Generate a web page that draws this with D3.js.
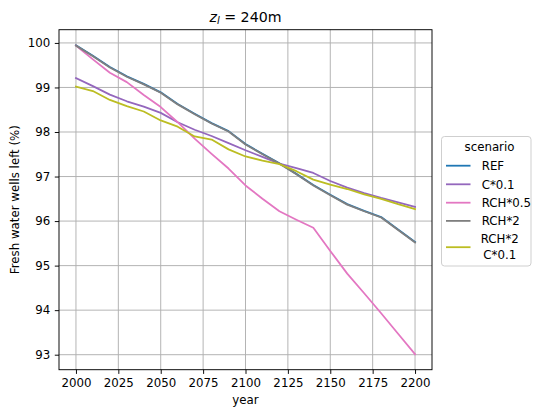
<!DOCTYPE html>
<html>
<head>
<meta charset="utf-8">
<script src="https://cdn.jsdelivr.net/npm/d3@7"></script>
<style>
  html, body { margin: 0; padding: 0; background: #fff; }
  svg { display: block; font-family: "DejaVu Sans", sans-serif; }
</style>
</head>
<body>
<svg id="chart" width="534" height="407"></svg>
<script>
// Share of fresh-water wells remaining per scenario, every 10 years
const years = [2000, 2010, 2020, 2030, 2040, 2050, 2060, 2070, 2080, 2090, 2100,
               2110, 2120, 2130, 2140, 2150, 2160, 2170, 2180, 2190, 2200];

const ref      = [99.95, 99.71, 99.46, 99.25, 99.08, 98.89, 98.63, 98.41, 98.20, 98.02, 97.73,
                  97.51, 97.30, 97.06, 96.81, 96.59, 96.38, 96.23, 96.09, 95.81, 95.53];
const c01      = [99.21, 99.03, 98.84, 98.69, 98.57, 98.43, 98.22, 98.05, 97.91, 97.75, 97.59,
                  97.44, 97.29, 97.19, 97.08, 96.90, 96.75, 96.63, 96.52, 96.42, 96.32];
const rch05    = [99.94, 99.63, 99.33, 99.12, 98.83, 98.56, 98.22, 97.85, 97.51, 97.18, 96.80,
                  96.50, 96.22, 96.03, 95.85, 95.33, 94.82, 94.38, 93.93, 93.47, 93.01];
const rch2     = [99.94, 99.70, 99.45, 99.24, 99.07, 98.88, 98.62, 98.40, 98.19, 98.01, 97.72,
                  97.50, 97.29, 97.05, 96.80, 96.58, 96.37, 96.22, 96.08, 95.80, 95.52];
const rch2c01  = [99.02, 98.92, 98.72, 98.58, 98.46, 98.26, 98.12, 97.90, 97.83, 97.61, 97.45,
                  97.36, 97.28, 97.12, 96.93, 96.82, 96.72, 96.60, 96.50, 96.38, 96.27];

const scenarioNames = ["REF", "C*0.1", "RCH*0.5", "RCH*2", "RCH*2\nC*0.1"];
const scenarioValues = [ref, c01, rch05, rch2, rch2c01];
const colors = ["#1f77b4", "#9467bd", "#e377c2", "#7f7f7f", "#bcbd22"];

const xTicks = [2000, 2025, 2050, 2075, 2100, 2125, 2150, 2175, 2200];
const yTicks = [93, 94, 95, 96, 97, 98, 99, 100];

const svg = d3.select("#chart");
const plot = { left: 59, right: 432, top: 29.7, bottom: 369.7 };
const fs = 11.8;

// matplotlib-style 5% margins around the data extent
const allVals = scenarioValues.flat();
const yMin = d3.min(allVals), yMax = d3.max(allVals);
const yPad = (yMax - yMin) * 0.05;
const x = d3.scaleLinear().domain([1990, 2210]).range([plot.left, plot.right]);
const y = d3.scaleLinear().domain([yMin - yPad, yMax + yPad]).range([plot.bottom, plot.top]);

svg.append("rect").attr("width", 534).attr("height", 407).attr("fill", "#fff");

// grid
const grid = svg.append("g").attr("stroke", "#b0b0b0").attr("stroke-width", 0.95);
xTicks.forEach(t => grid.append("line")
  .attr("x1", x(t)).attr("x2", x(t)).attr("y1", plot.top).attr("y2", plot.bottom));
yTicks.forEach(t => grid.append("line")
  .attr("x1", plot.left).attr("x2", plot.right).attr("y1", y(t)).attr("y2", y(t)));

// series
const line = d3.line().x((d, i) => x(years[i])).y(d => y(d));
const plotClip = svg.append("clipPath").attr("id", "clip").append("rect")
  .attr("x", plot.left).attr("y", plot.top)
  .attr("width", plot.right - plot.left).attr("height", plot.bottom - plot.top);
const series = svg.append("g").attr("clip-path", "url(#clip)");
scenarioValues.forEach((vals, i) => {
  series.append("path").datum(vals)
    .attr("d", line).attr("fill", "none")
    .attr("stroke", colors[i]).attr("stroke-width", 1.8)
    .attr("stroke-linejoin", "round").attr("stroke-linecap", "square");
});

// axes
const xAxis = d3.axisBottom(x).tickValues(xTicks).tickFormat(d3.format("d"))
  .tickSizeInner(4.2).tickSizeOuter(0).tickPadding(4.5);
const yAxis = d3.axisLeft(y).tickValues(yTicks).tickFormat(d3.format("d"))
  .tickSizeInner(4.2).tickSizeOuter(0).tickPadding(4.5);

const gx = svg.append("g").attr("transform", `translate(0,${plot.bottom})`).call(xAxis);
const gy = svg.append("g").attr("transform", `translate(${plot.left},0)`).call(yAxis);
[gx, gy].forEach(g => {
  g.select(".domain").remove();
  g.selectAll(".tick line").attr("stroke", "#000").attr("stroke-width", 0.95);
  g.selectAll(".tick text").attr("fill", "#000")
    .style("font-family", "DejaVu Sans").style("font-size", fs + "px");
});

// spines
svg.append("rect")
  .attr("x", plot.left).attr("y", plot.top)
  .attr("width", plot.right - plot.left).attr("height", plot.bottom - plot.top)
  .attr("fill", "none").attr("stroke", "#000").attr("stroke-width", 0.95);

// axis labels
svg.append("text").attr("x", (plot.left + plot.right) / 2).attr("y", 403.5)
  .attr("text-anchor", "middle").style("font-size", fs + "px").text("year");
svg.append("text")
  .attr("transform", `translate(19,${(plot.top + plot.bottom) / 2}) rotate(-90)`)
  .attr("text-anchor", "middle").style("font-size", fs + "px")
  .text("Fresh water wells left (%)");

// title
const title = svg.append("text").attr("x", (plot.left + plot.right) / 2).attr("y", 21.6)
  .attr("text-anchor", "middle").style("font-size", "14.2px");
title.append("tspan").attr("font-style", "italic").text("z");
title.append("tspan").attr("font-style", "italic").attr("font-size", "10px")
  .attr("dy", 2.6).text("l");
title.append("tspan").attr("dy", -2.6).text(" = 240m");

// legend
const lg = svg.append("g");
lg.append("rect").attr("x", 441.5).attr("y", 136.5).attr("width", 89.5).attr("height", 129.5)
  .attr("rx", 3).attr("fill", "#fff").attr("fill-opacity", 0.8)
  .attr("stroke", "#cccccc").attr("stroke-width", 0.95);
lg.append("text").attr("x", 489.5).attr("y", 150.8).attr("text-anchor", "middle")
  .style("font-size", fs + "px").text("scenario");

const rowY = [165.7, 184.3, 202.7, 220.9, 247.2];
scenarioNames.forEach((name, i) => {
  lg.append("line").attr("x1", 446).attr("x2", 470.5)
    .attr("y1", rowY[i]).attr("y2", rowY[i])
    .attr("stroke", colors[i]).attr("stroke-width", 1.8);
  const parts = name.split("\n");
  const t = lg.append("text").style("font-size", fs + "px");
  if (parts.length === 1) {
    t.attr("x", 481.7).attr("y", rowY[i] + 4.2).text(name);
  } else {
    // multi-line label is centred on its widest line
    t.attr("text-anchor", "middle");
    parts.forEach((p, k) => {
      t.append("tspan").attr("x", 499.8)
        .attr("y", rowY[i] - 8.9 + 4.2 + k * 16.9).text(p);
    });
  }
});
</script>
</body>
</html>
